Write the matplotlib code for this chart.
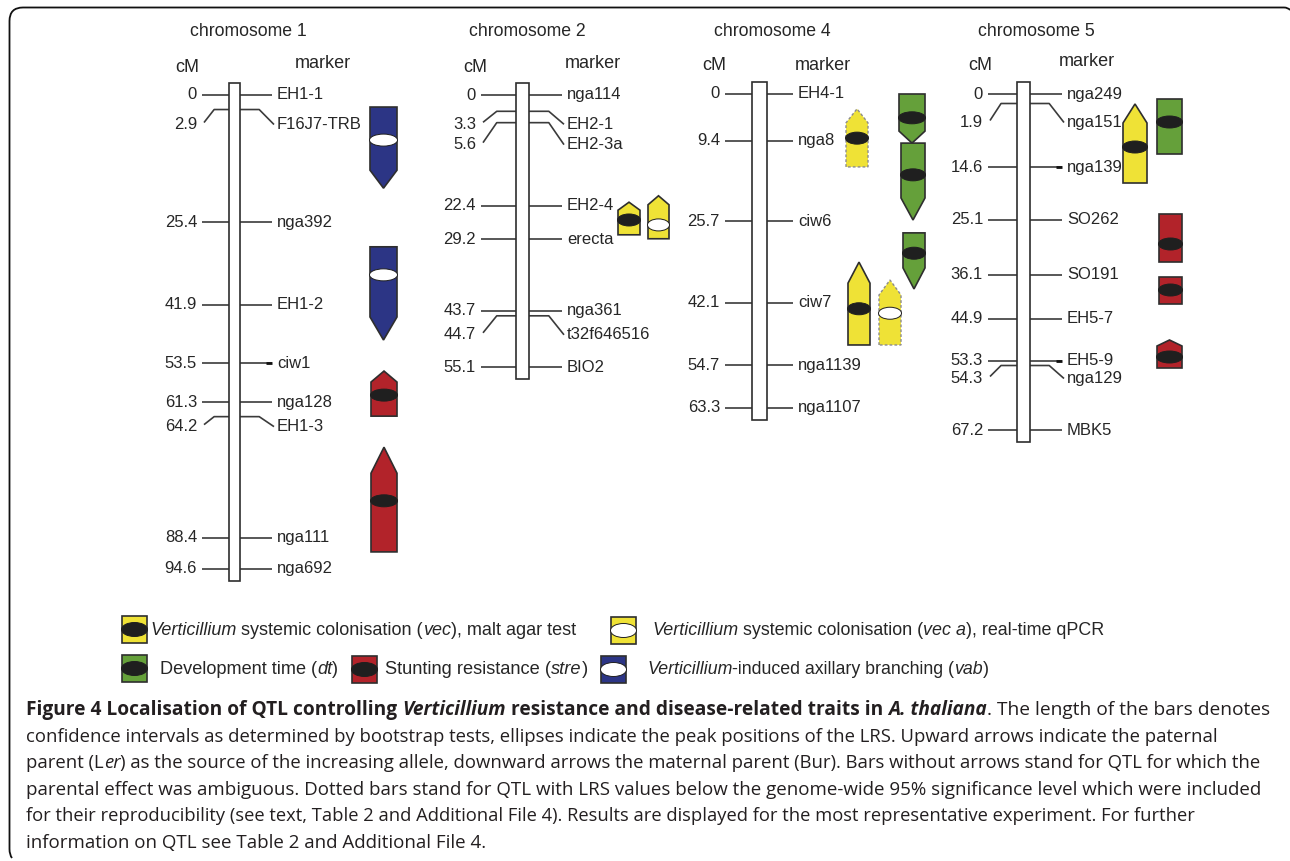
import matplotlib
matplotlib.use('Agg')
import matplotlib.pyplot as plt
from matplotlib.patches import Polygon, Ellipse, Rectangle, PathPatch
from matplotlib.path import Path

# ---------------- data ----------------
chrom_titles = ['chromosome 1', 'chromosome 2', 'chromosome 4', 'chromosome 5']

chr1_cm = [0, 2.9, 25.4, 41.9, 53.5, 61.3, 64.2, 88.4, 94.6]
chr1_markers = ['EH1-1', 'F16J7-TRB', 'nga392', 'EH1-2', 'ciw1', 'nga128', 'EH1-3', 'nga111', 'nga692']
chr2_cm = [0, 3.3, 5.6, 22.4, 29.2, 43.7, 44.7, 55.1]
chr2_markers = ['nga114', 'EH2-1', 'EH2-3a', 'EH2-4', 'erecta', 'nga361', 't32f646516', 'BIO2']
chr4_cm = [0, 9.4, 25.7, 42.1, 54.7, 63.3]
chr4_markers = ['EH4-1', 'nga8', 'ciw6', 'ciw7', 'nga1139', 'nga1107']
chr5_cm = [0, 1.9, 14.6, 25.1, 36.1, 44.9, 53.3, 54.3, 67.2]
chr5_markers = ['nga249', 'nga151', 'nga139', 'SO262', 'SO191', 'EH5-7', 'EH5-9', 'nga129', 'MBK5']

# QTL: chromosome, trait, interval start / end (cM), LRS peak (cM), arrow direction, dotted
qtl_chr = [1, 1, 1, 1, 2, 2, 4, 4, 4, 4, 4, 4, 5, 5, 5, 5, 5]
qtl_trait = ['vab', 'vab', 'stre', 'stre', 'vec', 'veca', 'vec', 'dt', 'dt', 'dt', 'vec', 'veca',
             'vec', 'dt', 'stre', 'stre', 'stre']
qtl_start = [2.4, 30.3, 55.1, 70.3, 21.7, 20.4, 3.0, 0.0, 9.9, 28.0, 33.9, 37.5, 2.0, 1.0, 24.0, 36.6, 49.2]
qtl_end = [18.6, 48.9, 64.1, 91.2, 28.3, 29.1, 14.7, 9.9, 25.4, 39.3, 50.6, 50.6, 17.8, 12.0, 33.6, 42.0, 54.8]
qtl_peak = [9.0, 35.9, 59.9, 81.0, 25.3, 26.3, 8.9, 4.8, 16.3, 32.1, 43.3, 44.2, 10.6, 5.6, 30.0, 39.2, 52.6]
qtl_dir = ['down', 'down', 'up', 'up', 'up', 'up', 'up', 'down', 'down', 'down', 'up', 'up',
           'up', 'none', 'none', 'none', 'up']
qtl_dotted = [False, False, False, False, False, False, True, False, False, False, False, True,
              False, False, False, False, False]

legend_traits = ['vec', 'veca', 'dt', 'stre', 'vab']
legend_texts = [
    [('Verticillium', 'italic'), (' systemic colonisation (', 'normal'), ('vec', 'italic'), ('), malt agar test', 'normal')],
    [('Verticillium', 'italic'), (' systemic colonisation (', 'normal'), ('vec a', 'italic'), ('), real-time qPCR', 'normal')],
    [('Development time (', 'normal'), ('dt', 'italic'), (')', 'normal')],
    [('Stunting resistance (', 'normal'), ('stre', 'italic'), (')', 'normal')],
    [('Verticillium', 'italic'), ('-induced axillary branching (', 'normal'), ('vab', 'italic'), (')', 'normal')],
]

caption_lines = [
    [('Figure 4 Localisation of QTL controlling ', 'bold', 'normal'), ('Verticillium', 'bold', 'italic'),
     (' resistance and disease-related traits in ', 'bold', 'normal'), ('A. thaliana', 'bold', 'italic'),
     ('. The length of the bars denotes', 'normal', 'normal')],
    [('confidence intervals as determined by bootstrap tests, ellipses indicate the peak positions of the LRS. Upward arrows indicate the paternal', 'normal', 'normal')],
    [('parent (L', 'normal', 'normal'), ('er', 'normal', 'italic'),
     (') as the source of the increasing allele, downward arrows the maternal parent (Bur). Bars without arrows stand for QTL for which the', 'normal', 'normal')],
    [('parental effect was ambiguous. Dotted bars stand for QTL with LRS values below the genome-wide 95% significance level which were included', 'normal', 'normal')],
    [('for their reproducibility (see text, Table 2 and Additional File 4). Results are displayed for the most representative experiment. For further', 'normal', 'normal')],
    [('information on QTL see Table 2 and Additional File 4.', 'normal', 'normal')],
]

# ---------------- styles / layout ----------------
W, H = 1290, 861
LINE = '#3b3b3b'
TXT = '#262626'
EDGE = '#2e2e2e'
SANS = ['Liberation Sans', 'DejaVu Sans']
CAPF = ['Open Sans', 'DejaVu Sans']
trait_color = {'vec': '#efe236', 'veca': '#efe236', 'dt': '#65a03a', 'stre': '#b2232a', 'vab': '#2c3585'}
trait_ell = {'vec': '#1f1f1f', 'veca': 'white', 'dt': '#1f1f1f', 'stre': '#1f1f1f', 'vab': 'white'}

chrom_layout = {
    1: dict(y0=95, s=5.01, bl=229, br=240, tl=202, tr=272, title=248, cmx=187, cmy=67, mkx=323, mky=63,
            off={1: 15, 6: 10}, dash={4}),
    2: dict(y0=95, s=4.94, bl=516, br=529, tl=481, tr=562, title=527, cmx=475, cmy=67, mkx=593, mky=63,
            off={1: 13, 2: 22, 6: 19}, dash=set()),
    4: dict(y0=94, s=4.96, bl=752, br=767, tl=725, tr=793, title=772, cmx=714, cmy=66, mkx=823, mky=66,
            off={}, dash=set()),
    5: dict(y0=94, s=5.00, bl=1017, br=1030, tl=988, tr=1062, title=1036, cmx=980, cmy=65, mkx=1087, mky=61,
            off={1: 19, 7: 13}, dash={2, 6}),
}
# QTL bar placement (px): left edge, width, arrow-head length
qtl_x0 = [370, 370, 371, 371, 618, 648, 846, 899, 901, 903, 848, 879, 1123, 1157, 1159, 1159, 1157]
qtl_w = [27, 27, 26, 26, 22, 21, 22, 26, 24, 22, 22, 22, 24, 25, 23, 23, 25]
qtl_head = [18, 23, 11, 26, 8, 9, 14, 12, 22, 21, 21, 15, 19, 0, 0, 0, 6]

fig = plt.figure(figsize=(W / 100, H / 100), dpi=100)
base = fig.add_axes([0, 0, 1, 1])
base.set_xlim(0, W)
base.set_ylim(H, 0)
base.axis('off')
renderer = fig.canvas.get_renderer()

# frame
verts = [(12, 858), (9.5, 855), (9.5, 849), (9.5, 21), (9.5, 7.5), (23, 7.5), (1284, 7.5), (1288, 7.5), (1290, 10)]
codes = [Path.MOVETO, Path.CURVE3, Path.CURVE3, Path.LINETO, Path.CURVE3, Path.CURVE3, Path.LINETO,
         Path.CURVE3, Path.CURVE3]
base.add_patch(PathPatch(Path(verts, codes), fc='none', ec='#111111', lw=1.3))


def text_width(ax, s, **kw):
    t = ax.text(0, 0, s, **kw)
    w = t.get_window_extent(renderer).width
    t.remove()
    return w


def rich(ax, x, y, runs, size, family, color, end=None, va='baseline'):
    def place(sz):
        arts = []
        cx = x
        for r in runs:
            txt, wt, st = r
            kw = dict(fontsize=sz, family=family, weight=wt, style=st)
            sw = text_width(ax, 'x x', **kw) - text_width(ax, 'xx', **kw)
            lead = len(txt) - len(txt.lstrip(' '))
            trail = len(txt) - len(txt.rstrip(' '))
            core = txt.strip(' ')
            cx += lead * sw
            a = ax.text(cx, y, core, color=color, ha='left', va=va, **kw)
            cx += a.get_window_extent(renderer).width
            cx += trail * sw
            arts.append(a)
        return arts, cx
    arts, cx = place(size)
    if end is not None:
        f = (end - x) / (cx - x)
        for a in arts:
            a.remove()
        arts, cx = place(size * f)
    return cx


# ---------------- chromosomes ----------------
chrom_data = {1: (chr1_cm, chr1_markers), 2: (chr2_cm, chr2_markers), 4: (chr4_cm, chr4_markers),
              5: (chr5_cm, chr5_markers)}
chrom_axes = {}
for title, key in zip(chrom_titles, [1, 2, 4, 5]):
    L = chrom_layout[key]
    cms, markers = chrom_data[key]
    ax = fig.add_axes([0, 0, 1, 1])
    ax.set_xlim(0, W)
    ax.set_ylim((H - L['y0']) / L['s'], -L['y0'] / L['s'])
    ax.axis('off')
    ax.patch.set_alpha(0)
    chrom_axes[key] = ax
    px = 1.0 / L['s']
    top = cms[0] - 12 * px
    bot = cms[-1] + 12 * px
    ax.add_patch(Rectangle((L['bl'], top), L['br'] - L['bl'], bot - top, fc='white', ec=EDGE, lw=1.2, zorder=3))
    base.text(L['title'], 32, title, ha='center', va='center', fontsize=12.7, family=SANS, color=TXT)
    base.text(L['cmx'], L['cmy'], 'cM', ha='center', va='center', fontsize=13, family=SANS, color=TXT)
    base.text(L['mkx'], L['mky'], 'marker', ha='center', va='center', fontsize=13, family=SANS, color=TXT)
    for i, (c, m) in enumerate(zip(cms, markers)):
        off = L['off'].get(i, 0) * px
        lkw = dict(color=LINE, lw=1.2, solid_capstyle='butt', zorder=2)
        if off == 0:
            ax.plot([L['tl'], L['bl']], [c, c], **lkw)
            ax.plot([L['br'], L['tr']], [c, c], **lkw)
            if i in L['dash']:
                ax.plot([L['tr'] - 6, L['tr']], [c, c], color='#111111', lw=2.0, solid_capstyle='butt', zorder=2)
        else:
            hl = (L['bl'] - L['tl']) * 0.55
            hr = (L['tr'] - L['br']) * 0.6
            ax.plot([L['bl'], L['bl'] - hl, L['tl'] + 2], [c, c, c + off - 2 * px], **lkw)
            ax.plot([L['br'], L['br'] + hr, L['tr'] + 2], [c, c, c + off], **lkw)
        ax.text(L['tl'] - 5, c + off, f'{c:g}', ha='right', va='center', fontsize=12, family=SANS, color=TXT)
        ax.text(L['tr'] + 5, c + off, m, ha='left', va='center', fontsize=12, family=SANS, color=TXT)

# ---------------- QTL bars ----------------
for i in range(len(qtl_chr)):
    ax = chrom_axes[qtl_chr[i]]
    px = 1.0 / chrom_layout[qtl_chr[i]]['s']
    x0, w, h = qtl_x0[i], qtl_w[i], qtl_head[i] * px
    yt, yb = qtl_start[i], qtl_end[i]
    xm = x0 + w / 2
    if qtl_dir[i] == 'up':
        pts = [(x0, yb), (x0, yt + h), (xm, yt), (x0 + w, yt + h), (x0 + w, yb)]
    elif qtl_dir[i] == 'down':
        pts = [(x0, yt), (x0 + w, yt), (x0 + w, yb - h), (xm, yb), (x0, yb - h)]
    else:
        pts = [(x0, yt), (x0 + w, yt), (x0 + w, yb), (x0, yb)]
    tr = qtl_trait[i]
    if qtl_dotted[i]:
        ax.add_patch(Polygon(pts, closed=True, fc=trait_color[tr], ec='#8c8c8c', lw=1.0,
                             ls=(0, (2, 1.5)), zorder=4))
    else:
        ax.add_patch(Polygon(pts, closed=True, fc=trait_color[tr], ec=EDGE, lw=1.2, zorder=4))
    ax.add_patch(Ellipse((xm, qtl_peak[i]), w + 1, 12 * px, fc=trait_ell[tr], ec='#1f1f1f', lw=0.7, zorder=5))

# ---------------- legend ----------------
leg_swatch = [(122, 616), (611, 617), (122, 655), (352, 656), (601, 656)]
leg_text_x = [150, 652, 160, 385, 647]
leg_text_end = [578, 1106, 339, 589, 991]
leg_row_y = [635, 635, 674, 674, 674]
for tr, (sx, sy), tx, te, ty, runs in zip(legend_traits, leg_swatch, leg_text_x, leg_text_end, leg_row_y,
                                          legend_texts):
    base.add_patch(Rectangle((sx, sy), 25, 27, fc=trait_color[tr], ec=EDGE, lw=1.2, zorder=4))
    base.add_patch(Ellipse((sx + 12.5, sy + 13.5), 26, 14, fc=trait_ell[tr], ec='#1f1f1f', lw=0.7, zorder=5))
    rich(base, tx, ty, [(t, 'normal', st) for t, st in runs], 12.5, SANS, TXT, end=te)

# ---------------- caption ----------------
cap_base = [715, 742, 768, 795, 821, 848]
cap_end = [1277, 1218, 1263, 1269, 1203, 489]
for runs, yb, xe in zip(caption_lines, cap_base, cap_end):
    rich(base, 26, yb, runs, 14, CAPF, '#231f20', end=xe)

fig.savefig('out.png', dpi=100)
